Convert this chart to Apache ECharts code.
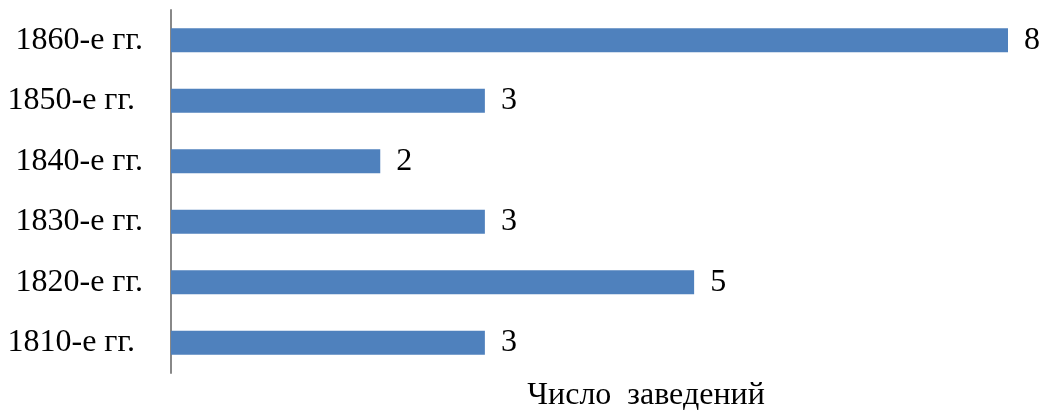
<!DOCTYPE html>
<html><head><meta charset="utf-8">
<script src="https://cdn.jsdelivr.net/npm/echarts@6/dist/echarts.min.js"></script>
<style>html,body{margin:0;padding:0;background:#fff}#c{width:1041px;height:414px}</style>
</head><body><div id="c"></div>
<script>
const categories = ['1810-е гг. ', '1820-е гг.', '1830-е гг.', '1840-е гг.', '1850-е гг. ', '1860-е гг.'];
const values = [3, 5, 3, 2, 3, 8];
const seriesName = 'Число  заведений';

const chart = echarts.init(document.getElementById('c'));
const font = '"Liberation Serif", "Times New Roman", serif';
chart.setOption({
  animation: false,
  grid: {left: 171, top: 10, width: 837, height: 363, containLabel: false},
  xAxis: {type: 'value', min: 0, max: 8, show: false},
  yAxis: {
    type: 'category', data: categories,
    axisLine: {show: true, lineStyle: {color: '#888', width: 2}},
    axisTick: {show: false},
    axisLabel: {color: '#000', fontFamily: font, fontSize: 32, margin: 28}
  },
  title: {
    text: seriesName, left: 641, textAlign: 'center', top: 375,
    textStyle: {color: '#000', fontFamily: font, fontSize: 32, fontWeight: 'normal'}
  },
  series: [{
    type: 'bar', name: seriesName, data: values, barWidth: 24,
    itemStyle: {color: '#4F81BD'},
    label: {show: true, position: 'right', distance: 16, color: '#000', fontFamily: font, fontSize: 32}
  }]
});
</script></body></html>
